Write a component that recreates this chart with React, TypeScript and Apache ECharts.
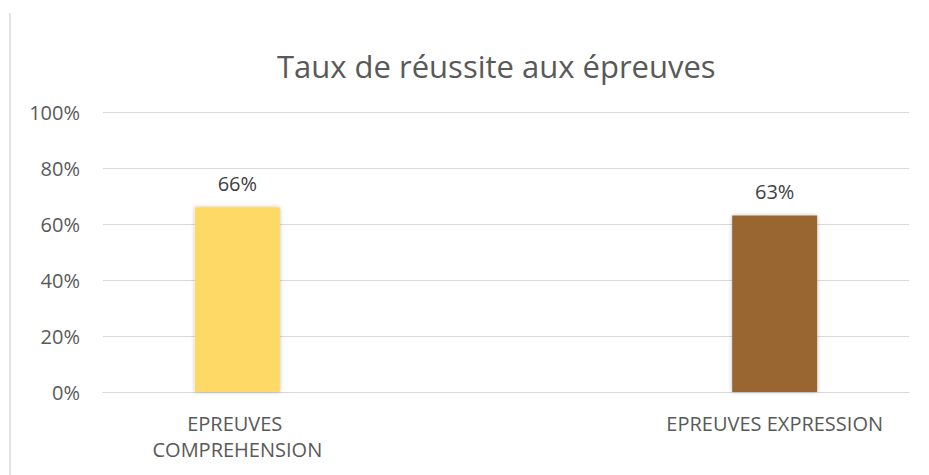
import React, { useEffect, useRef } from "react";
import * as echarts from "echarts";

const title = "Taux de réussite aux épreuves";
const categories = ["EPREUVES COMPREHENSION", "", "EPREUVES EXPRESSION"];
const values: (number | null)[] = [66, null, 63];
const barColors = ["#FFD966", "#FFFFFF", "#996633"];
const yTicks = { min: 0, max: 100, interval: 20 };

export default function App() {
  const ref = useRef<HTMLDivElement>(null);
  useEffect(() => {
    if (!ref.current) return;
    const chart = echarts.init(ref.current, null, { renderer: "svg" });
    const font = "'Open Sans', sans-serif";
    chart.setOption({
      animation: false,
      backgroundColor: "#ffffff",
      title: {
        text: title,
        left: 272,
        top: 45,
        textStyle: { fontFamily: font, fontSize: 31, fontWeight: "normal", color: "#595959" },
      },
      grid: { left: 103, right: 20, top: 112, bottom: 83, containLabel: false },
      xAxis: {
        type: "category",
        data: categories,
        axisLine: { show: true, lineStyle: { color: "#d9d9d9", width: 1 } },
        axisTick: { show: false },
        axisLabel: {
          interval: 0,
          margin: 18,
          width: 260,
          overflow: "break",
          lineHeight: 26,
          fontFamily: font,
          fontSize: 20,
          color: "#595959",
        },
      },
      yAxis: {
        type: "value",
        min: yTicks.min,
        max: yTicks.max,
        interval: yTicks.interval,
        axisLine: { show: false },
        axisTick: { show: false },
        splitLine: { lineStyle: { color: "#d9d9d9", width: 1 } },
        axisLabel: {
          formatter: "{value}%",
          margin: 23,
          fontFamily: font,
          fontSize: 20,
          color: "#595959",
        },
      },
      series: [
        {
          type: "bar",
          barWidth: 85,
          data: values.map((v, i) => ({
            value: v,
            itemStyle: {
              color: barColors[i],
              shadowBlur: 4,
              shadowColor: "rgba(0,0,0,0.25)",
            },
          })),
          label: {
            show: true,
            position: "top",
            distance: 14,
            formatter: "{c}%",
            fontFamily: font,
            fontSize: 20,
            color: "#404040",
          },
        },
      ],
      graphic: [
        {
          type: "line",
          shape: { x1: 10, y1: 13, x2: 10, y2: 475 },
          style: { stroke: "#d9d9d9", lineWidth: 1.5 },
        },
      ],
    });
    return () => chart.dispose();
  }, []);
  return (
    <div
      ref={ref}
      style={{ position: "absolute", left: 0, top: 0, width: 929, height: 475 }}
    />
  );
}
